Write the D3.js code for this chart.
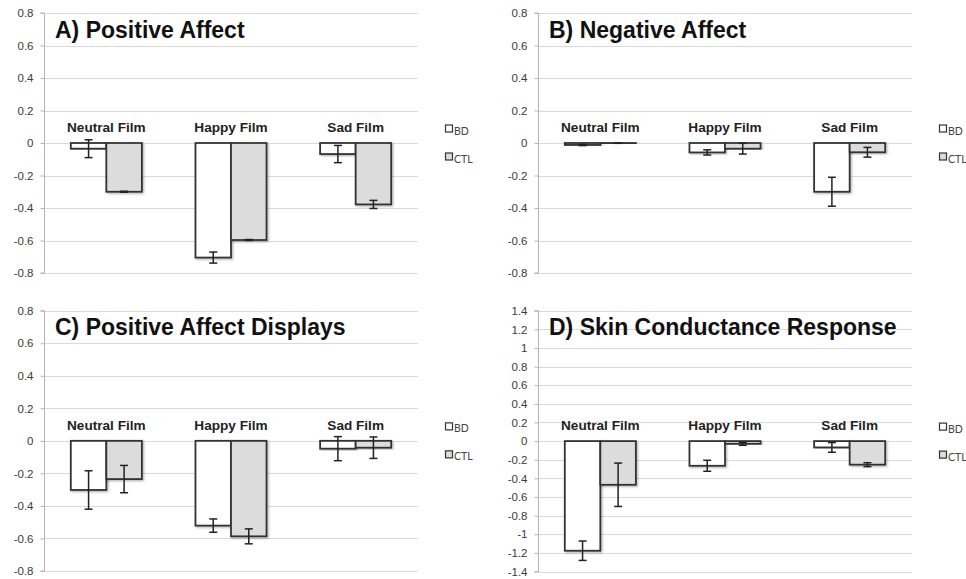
<!DOCTYPE html>
<html>
<head>
<meta charset="utf-8">
<script src="https://cdn.jsdelivr.net/npm/d3@7"></script>
<style>
  html, body { margin: 0; padding: 0; background: #fff; }
  svg { display: block; }
</style>
</head>
<body>
<svg id="chart" width="966" height="579"></svg>
<script>
// ---------- DATA ----------
const categories = ["Neutral Film", "Happy Film", "Sad Film"];
const seriesNames = ["BD", "CTL"];
const panelTitles = ["A) Positive Affect", "B) Negative Affect", "C) Positive Affect Displays", "D) Skin Conductance Response"];

// A) Positive Affect
const posAffectBD     = [-0.035, -0.705, -0.068];
const posAffectBDErr  = [0.055, 0.034, 0.053];
const posAffectCTL    = [-0.300, -0.597, -0.378];
const posAffectCTLErr = [0.003, 0.003, 0.025];

// B) Negative Affect
const negAffectBD     = [-0.012, -0.058, -0.300];
const negAffectBDErr  = [0.004, 0.016, 0.089];
const negAffectCTL    = [-0.001, -0.035, -0.057];
const negAffectCTLErr = [0.001, 0.033, 0.030];

// C) Positive Affect Displays
const displaysBD      = [-0.302, -0.521, -0.048];
const displaysBDErr   = [0.118, 0.041, 0.074];
const displaysCTL     = [-0.235, -0.587, -0.042];
const displaysCTLErr  = [0.084, 0.046, 0.066];

// D) Skin Conductance Response
const scrBD           = [-1.177, -0.265, -0.068];
const scrBDErr        = [0.104, 0.059, 0.052];
const scrCTL          = [-0.469, -0.029, -0.253];
const scrCTLErr       = [0.233, 0.016, 0.021];

// tick values
const ticksSmall = [0.8, 0.6, 0.4, 0.2, 0, -0.2, -0.4, -0.6, -0.8];
const ticksLarge = [1.4, 1.2, 1, 0.8, 0.6, 0.4, 0.2, 0, -0.2, -0.4, -0.6, -0.8, -1, -1.2, -1.4];

// ---------- LAYOUT ----------
const svg = d3.select("#chart");
const seriesFill = d3.scaleOrdinal().domain(seriesNames).range(["#ffffff", "#dcdcdc"]);

const defs = svg.append("defs");
const f = defs.append("filter").attr("id", "shadow").attr("x", "-20%").attr("y", "-20%").attr("width", "140%").attr("height", "140%");
f.append("feDropShadow").attr("dx", 1.2).attr("dy", 1.2).attr("stdDeviation", 0.8).attr("flood-color", "#000").attr("flood-opacity", 0.3);

const panels = [
  { title: panelTitles[0], bd: posAffectBD, bdErr: posAffectBDErr, ctl: posAffectCTL, ctlErr: posAffectCTLErr, ticks: ticksSmall, x0: 44,  top: 13,    bottom: 273 },
  { title: panelTitles[1], bd: negAffectBD, bdErr: negAffectBDErr, ctl: negAffectCTL, ctlErr: negAffectCTLErr, ticks: ticksSmall, x0: 538, top: 13,    bottom: 273 },
  { title: panelTitles[2], bd: displaysBD,  bdErr: displaysBDErr,  ctl: displaysCTL,  ctlErr: displaysCTLErr,  ticks: ticksSmall, x0: 44,  top: 310.7, bottom: 571 },
  { title: panelTitles[3], bd: scrBD,       bdErr: scrBDErr,       ctl: scrCTL,       ctlErr: scrCTLErr,       ticks: ticksLarge, x0: 538, top: 310.7, bottom: 571.5 }
];
const plotW = 374;

panels.forEach(p => {
  const g = svg.append("g");
  const ext = d3.max(p.ticks);
  const y = d3.scaleLinear().domain([-ext, ext]).range([p.bottom, p.top]);
  const x = d3.scaleBand().domain(categories).range([p.x0, p.x0 + plotW]).paddingInner(0.43).paddingOuter(0.215);
  const xs = d3.scaleBand().domain(seriesNames).range([0, x.bandwidth()]);

  // gridlines
  g.append("g").selectAll("line").data(p.ticks).join("line")
    .attr("x1", p.x0).attr("x2", p.x0 + plotW)
    .attr("y1", d => Math.round(y(d)) + 0.5).attr("y2", d => Math.round(y(d)) + 0.5)
    .attr("stroke", "#dadada").attr("stroke-width", 1);

  // y axis
  const axis = d3.axisLeft(y).tickValues(p.ticks).tickSize(4).tickPadding(7)
    .tickFormat(d => String(+d.toFixed(1)));
  const ag = g.append("g").attr("transform", `translate(${p.x0 + 0.5},0)`).call(axis);
  ag.select(".domain").attr("stroke", "#b5b5b5").attr("d", `M-4,${y(ext)}H0V${y(-ext)}H-4`);
  ag.selectAll(".tick line").attr("stroke", "#b5b5b5");
  ag.selectAll(".tick text").attr("fill", "#3a3a3a")
    .style("font-family", "'Liberation Sans', Arial, sans-serif").style("font-size", "11.5px");

  // title
  g.append("text").attr("x", p.x0 + 11).attr("y", p.top + 24.5)
    .attr("font-family", "'Liberation Sans', Arial, Helvetica, sans-serif")
    .attr("font-weight", "bold").attr("font-size", 23).attr("fill", "#111")
    .text(p.title);

  // category labels
  g.append("g").selectAll("text").data(categories).join("text")
    .attr("x", d => x(d) + x.bandwidth() / 2)
    .attr("y", y(0) - 11)
    .attr("text-anchor", "middle")
    .attr("font-family", "'Liberation Sans', Arial, sans-serif")
    .attr("font-weight", "bold").attr("font-size", 13.6).attr("fill", "#222")
    .text(d => d);

  // bars
  const rows = [];
  categories.forEach((c, i) => {
    rows.push({ cat: c, s: "BD", v: p.bd[i], e: p.bdErr[i] });
    rows.push({ cat: c, s: "CTL", v: p.ctl[i], e: p.ctlErr[i] });
  });
  const bg = g.append("g");
  bg.selectAll("rect").data(rows).join("rect")
    .attr("x", d => x(d.cat) + xs(d.s))
    .attr("width", xs.bandwidth())
    .attr("y", d => Math.min(y(0), y(d.v)))
    .attr("height", d => Math.abs(y(d.v) - y(0)))
    .attr("fill", d => seriesFill(d.s))
    .attr("stroke", "#333").attr("stroke-width", 1.8)
    .attr("filter", "url(#shadow)");

  // error bars
  const eg = g.append("g").attr("stroke", "#222").attr("stroke-width", 1.5).attr("fill", "none");
  rows.forEach(d => {
    const cx = x(d.cat) + xs(d.s) + xs.bandwidth() / 2;
    const yt = y(d.v + d.e), yb = y(d.v - d.e);
    eg.append("line").attr("x1", cx).attr("x2", cx).attr("y1", yt).attr("y2", yb);
    eg.append("line").attr("x1", cx - 4).attr("x2", cx + 4).attr("y1", yt).attr("y2", yt);
    eg.append("line").attr("x1", cx - 4).attr("x2", cx + 4).attr("y1", yb).attr("y2", yb);
  });

  // legend
  const lx = p.x0 + 401;
  const lg = g.append("g");
  seriesNames.forEach((s, i) => {
    const cy = y(0) + (i === 0 ? -14 : 14);
    lg.append("rect").attr("x", lx + 0.5).attr("y", cy - 4).attr("width", 7).attr("height", 7)
      .attr("fill", seriesFill(s)).attr("stroke", "#333").attr("stroke-width", 1.2);
    lg.append("text").attr("x", lx + 9).attr("y", cy + 5.5)
      .attr("font-family", "Lato, 'Open Sans', sans-serif").attr("font-size", 10.5).attr("fill", "#444")
      .text(s);
  });
});
</script>
</body>
</html>
